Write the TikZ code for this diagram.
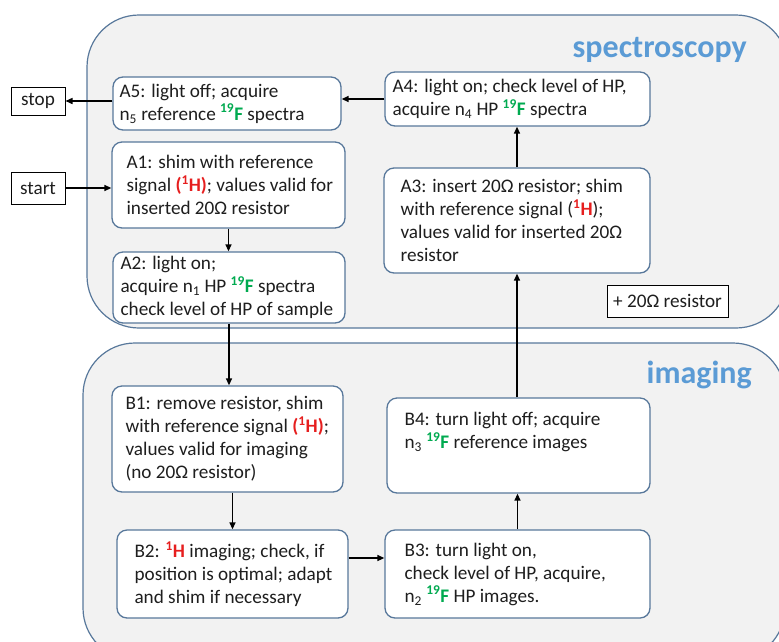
\documentclass[tikz,border=0pt]{standalone}
\usepackage{fontspec}
\setmainfont{Carlito}
\usetikzlibrary{arrows.meta}

\definecolor{edge}{RGB}{88,120,155}
\definecolor{panelgray}{RGB}{242,242,242}
\definecolor{ink}{RGB}{30,30,30}
\definecolor{titleblue}{RGB}{91,155,213}
\definecolor{nucred}{RGB}{230,30,30}
\definecolor{nucgreen}{RGB}{0,170,80}

% nucleus labels
\newcommand\flnuc{\textcolor{nucgreen}{\textbf{\textsuperscript{19}F}}}
\newcommand\hnuc{\textcolor{nucred}{\textbf{\textsuperscript{1}H}}}
\newcommand\hnucp{\textcolor{nucred}{\textbf{(\textsuperscript{1}H)}}}

\begin{document}
\begin{tikzpicture}[x=1pt,y=-1pt,
  panel/.style={draw=edge, line width=1.2pt, fill=panelgray, rounded corners=52pt},
  procbox/.style 2 args={draw=edge, line width=1.3pt, fill=white, rounded corners=10pt,
    inner sep=0pt, minimum width=#1, minimum height=#2},
  proctext/.style={anchor=west, align=left, inner sep=0pt, text=ink,
    font=\fontsize{19.2}{23}\selectfont},
  term/.style={draw=black, line width=1pt, fill=white, inner sep=0pt,
    text=ink, font=\fontsize{19.2}{23}\selectfont},
  title/.style={text=titleblue, font=\fontsize{32}{36}\selectfont\bfseries, inner sep=0pt},
  flow/.style={draw=black, line width=1.4pt, -{Triangle[length=7pt,width=6pt]}}
]
\useasboundingbox (0,0) rectangle (779,641);
\clip (0,0) rectangle (779,641);

% the two stage panels
\draw[panel] (87,15) rectangle (788,328);
\draw[panel] (83,343) rectangle (785,660);
\node[title, anchor=base east] (tspec) at (747,57) {spectroscopy};
\node[title, anchor=base east] (timg) at (752,383) {imaging};

% terminals
\node[term, minimum width=54pt, minimum height=28pt] (stop) at (38,101) {stop};
\node[term, minimum width=54pt, minimum height=32pt] (start) at (38,188) {start};
\node[term, minimum width=121pt, minimum height=32pt] (res) at (667.5,301) {+ 20Ω resistor};

% spectroscopy steps
\node[procbox={228pt}{53pt}] (A5) at (227,103.5) {};
\node[proctext] (A5t) at ([xshift=7pt]A5.west)
  {A5: light off; acquire\\ n\textsubscript{5} reference \flnuc{} spectra};
\node[procbox={233pt}{86pt}] (A1) at (228.5,185) {};
\node[proctext] (A1t) at ([xshift=15pt]A1.west)
  {A1: shim with reference\\ signal \hnucp; values valid for\\ inserted 20Ω resistor};
\node[procbox={232pt}{71pt}] (A2) at (229,287.5) {};
\node[proctext] (A2t) at ([xshift=8pt]A2.west)
  {A2: light on;\\ acquire n\textsubscript{1} HP \flnuc{} spectra\\ check level of HP of sample};
\node[procbox={265pt}{54pt}] (A4) at (517.5,99) {};
\node[proctext] (A4t) at ([xshift=8pt]A4.west)
  {A4: light on; check level of HP,\\ acquire n\textsubscript{4} HP \flnuc{} spectra};
\node[procbox={266pt}{105pt}] (A3) at (517,220.5) {};
\node[proctext] (A3t) at ([xshift=17pt]A3.west)
  {A3: insert 20Ω resistor; shim\\ with reference signal (\hnuc);\\ values valid for inserted 20Ω\\ resistor};

% imaging steps
\node[procbox={231pt}{106pt}] (B1) at (227.5,439) {};
\node[proctext] (B1t) at ([xshift=14pt]B1.west)
  {B1: remove resistor, shim\\ with reference signal \hnucp;\\ values valid for imaging\\ (no 20Ω resistor)};
\node[procbox={231pt}{88pt}] (B2) at (232.5,574) {};
\node[proctext] (B2t) at ([xshift=18pt]B2.west)
  {B2: \hnuc{} imaging; check, if\\ position is optimal; adapt\\ and shim if necessary};
\node[procbox={265pt}{88pt}] (B3) at (517.5,574) {};
\node[proctext] (B3t) at ([xshift=20pt]B3.west)
  {B3: turn light on,\\ check level of HP, acquire,\\ n\textsubscript{2} \flnuc{} HP images.};
\node[procbox={263pt}{95pt}] (B4) at (518.5,445.5) {};
\node[proctext] (B4t) at ([xshift=18pt]B4.west)
  {B4: turn light off; acquire\\ n\textsubscript{3} \flnuc{} reference images\\ \strut};

% sequence
\draw[flow] (start.east) -- (start.east -| A1.west);
\draw[flow] (A1.south) -- (A1.south |- A2.north);
\draw[flow] (A2.south) -- (A2.south |- B1.north);
\draw[flow] (B2.north |- B1.south) -- (B2.north);
\draw[flow] ([yshift=16pt]B2.east) -- ([yshift=16pt]B3.west);
\draw[flow] (B3.north) -- (B3.north |- B4.south);
\draw[flow] (A3.south |- B4.north) -- (A3.south);
\draw[flow] (A3.north) -- (A3.north |- A4.south);
\draw[flow] (A4.west) -- (A4.west -| A5.east);
\draw[flow] (stop.east -| A5.west) -- (stop.east);
\end{tikzpicture}
\end{document}
